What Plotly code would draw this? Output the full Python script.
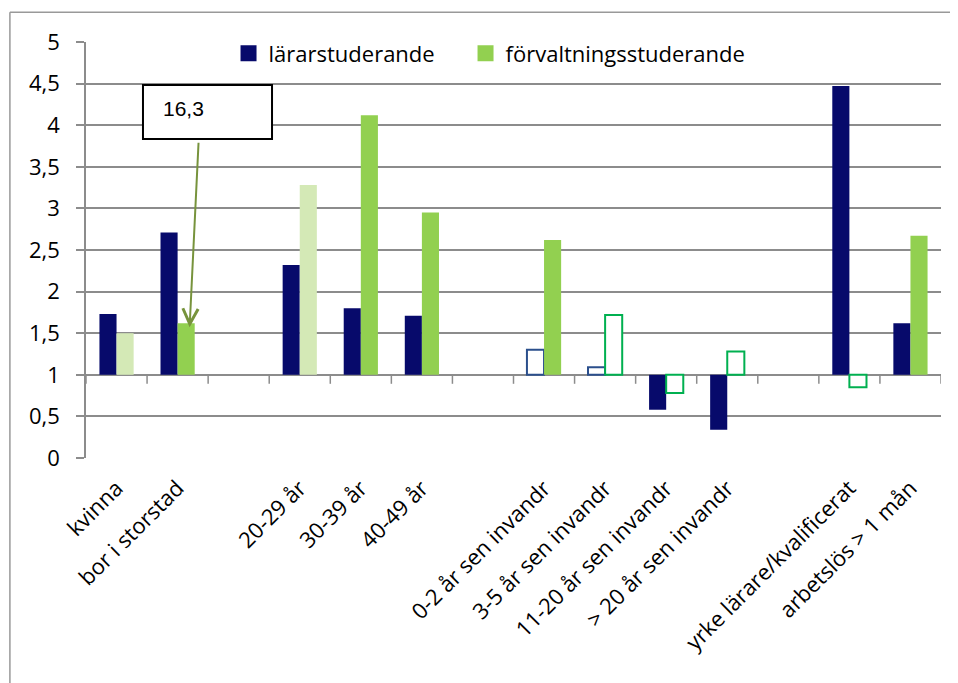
import plotly.graph_objects as go

# ---------------- data ----------------
categories = ["kvinna", "bor i storstad", "", "20-29 år", "30-39 år", "40-49 år", "",
              "0-2 år sen invandr", "3-5 år sen invandr", "11-20 år sen invandr",
              "> 20 år sen invandr", "", "yrke lärare/kvalificerat", "arbetslös > 1 mån"]
larar = [1.73, 2.71, None, 2.32, 1.80, 1.71, None, 1.30, 1.09, 0.58, 0.34, None, 4.47, 1.62]
forv = [1.50, 1.62, None, 3.28, 4.12, 2.95, None, 2.62, 1.72, 0.78, 1.28, None, 0.85, 2.67]
larar_kind = ["solid", "solid", None, "solid", "solid", "solid", None,
              "outline", "outline", "solid", "solid", None, "solid", "solid"]
forv_kind = ["light", "solid", None, "light", "solid", "solid", None,
             "solid", "outline", "outline", "outline", None, "outline", "solid"]
y_ticks = [0, 0.5, 1, 1.5, 2, 2.5, 3, 3.5, 4, 4.5, 5]
y_tick_labels = ["0", "0,5", "1", "1,5", "2", "2,5", "3", "3,5", "4", "4,5", "5"]
series_names = ["lärarstuderande", "förvaltningsstuderande"]
reference_value = 1
off_scale_value = 16.3  # förvaltningsstuderande, bor i storstad
off_scale_index = 1

# ---------------- styles ----------------
FONT = "Open Sans"
FS = 22
NAVY = "#070A6B"
GREEN = "#92D050"
LIGHT = "#D4E9B6"
NAVY_EDGE = "#2B4F8C"
GREEN_EDGE = "#00B050"
GRID = "#8C8C8C"

def fills(kinds, solid, light):
    out = []
    for k in kinds:
        if k == "solid":
            out.append(solid)
        elif k == "light":
            out.append(light)
        else:
            out.append("rgba(255,255,255,1)")
    return out

def edges(kinds, edge):
    return [edge if k == "outline" else "rgba(0,0,0,0)" for k in kinds]

def edge_w(kinds):
    return [2 if k == "outline" else 0 for k in kinds]

x = list(range(len(categories)))

fig = go.Figure()
fig.add_trace(go.Bar(
    x=x, y=[None if v is None else v - reference_value for v in larar], base=reference_value,
    name=series_names[0], showlegend=False,
    marker=dict(color=fills(larar_kind, NAVY, NAVY),
                line=dict(color=edges(larar_kind, NAVY_EDGE), width=edge_w(larar_kind))),
))
fig.add_trace(go.Bar(
    x=x, y=[None if v is None else v - reference_value for v in forv], base=reference_value,
    name=series_names[1], showlegend=False,
    marker=dict(color=fills(forv_kind, GREEN, LIGHT),
                line=dict(color=edges(forv_kind, GREEN_EDGE), width=edge_w(forv_kind))),
))
# legend entries (one legend box each, to place them like the original)
for name, col, lg in zip(series_names, [NAVY, GREEN], ["legend", "legend2"]):
    fig.add_trace(go.Scatter(x=[None], y=[None], mode="markers", name=name, legend=lg,
                             marker=dict(symbol="square", size=16, color=col)))

shapes = []
# category tick marks on the reference line
for i in range(len(categories) + 1):
    shapes.append(dict(type="line", xref="x", yref="y", x0=i - 0.5, x1=i - 0.5,
                       ysizemode="pixel", yanchor=reference_value, y0=0, y1=-9,
                       line=dict(color=GRID, width=1.5)))
# outer frame
shapes.append(dict(type="line", xref="paper", yref="paper", x0=-0.089, x1=-0.089,
                   y0=-0.6, y1=1.0715, line=dict(color="#999999", width=1.5)))
shapes.append(dict(type="line", xref="paper", yref="paper", x0=-0.089, x1=1.1,
                   y0=1.0715, y1=1.0715, line=dict(color="#999999", width=1.5)))
# callout box
shapes.append(dict(type="rect", xref="x", yref="y", x0=0.433, x1=2.546, y0=3.834, y1=4.483,
                   fillcolor="white", line=dict(color="black", width=2), layer="above"))

annotations = [
    dict(xref="x", yref="y", x=0.73, y=4.2, xanchor="left", yanchor="middle",
         text=f"{off_scale_value}".replace(".", ","), showarrow=False,
         font=dict(family="Liberation Sans", size=21, color="black")),
    dict(xref="x", yref="y", x=off_scale_index, y=forv[off_scale_index], xshift=12, yshift=-4,
         text="", showarrow=True, ax=9, ay=-186, axref="pixel", ayref="pixel",
         arrowcolor="#77933C", arrowwidth=2, arrowsize=1.5, arrowhead=5),
]

leg_common = dict(orientation="h", xanchor="left", y=1.023, yanchor="top",
                  bgcolor="rgba(0,0,0,0)", font=dict(family=FONT, size=FS, color="black"),
                  itemclick=False, itemdoubleclick=False)

# page body has an 8px margin, so the figure is sized/margined to compensate
fig.update_layout(
    width=950, height=675,
    margin=dict(l=78, r=17, t=34, b=225, autoexpand=False),
    paper_bgcolor="white", plot_bgcolor="white",
    font=dict(family=FONT, size=FS, color="black"),
    barmode="group", bargap=0.44, bargroupgap=0,
    shapes=shapes, annotations=annotations,
    legend=dict(x=0.1667, **leg_common),
    legend2=dict(x=0.4439, **leg_common),
    xaxis=dict(range=[-0.5, len(categories) - 0.5], tickmode="array", tickvals=x,
               ticktext=categories, tickangle=-45, showgrid=False, showline=False,
               zeroline=False, ticks="", ticklabelstandoff=12, fixedrange=True,
               automargin=False),
    yaxis=dict(range=[0, 5], tickmode="array", tickvals=y_ticks, ticktext=y_tick_labels,
               showgrid=True, gridcolor=GRID, gridwidth=1.5, showline=True, linecolor=GRID,
               linewidth=1.5, ticks="outside", ticklen=8, tickcolor=GRID, tickwidth=1.5,
               zeroline=False, ticklabelstandoff=12, fixedrange=True, automargin=False),
)

fig.write_html("out.html")
